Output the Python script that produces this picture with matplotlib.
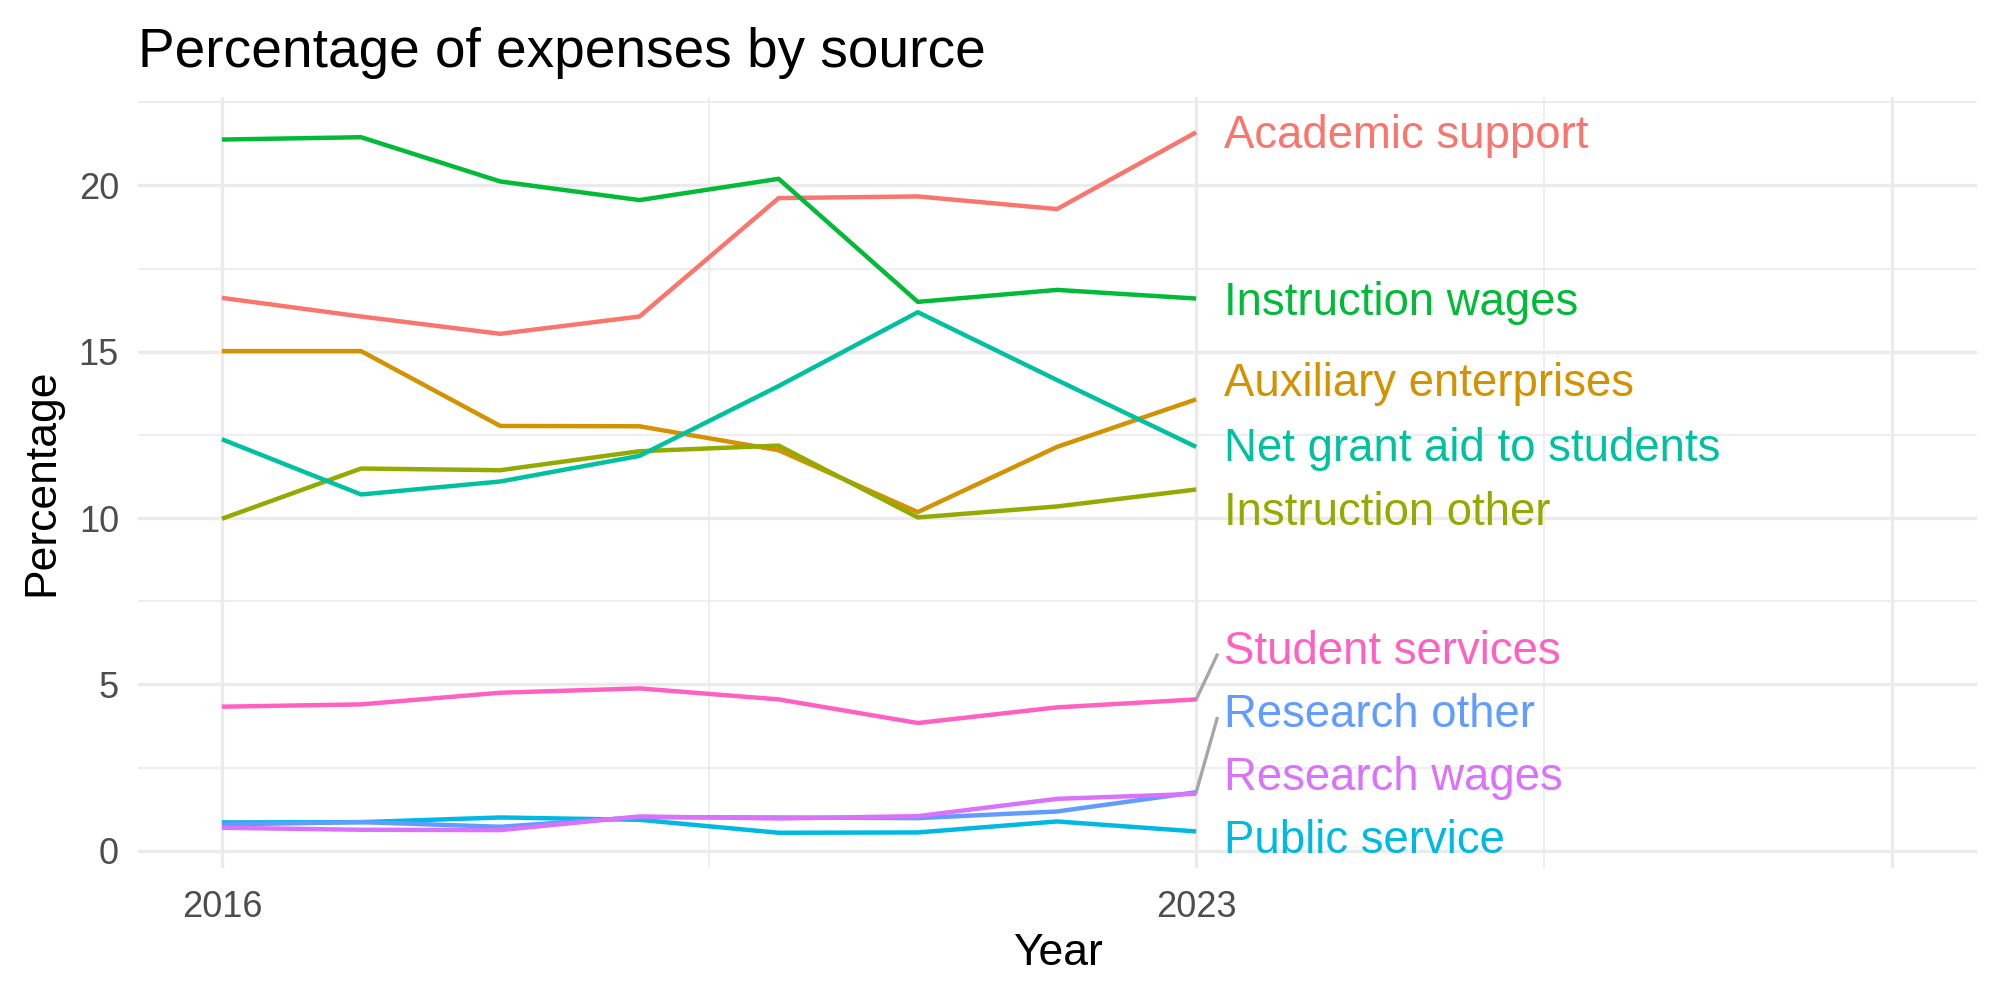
import matplotlib.pyplot as plt
import numpy as np

plt.rcParams['font.family'] = ['Liberation Sans', 'DejaVu Sans']

years = [2016, 2017, 2018, 2019, 2020, 2021, 2022, 2023]

sources = [
    "Academic support",
    "Auxiliary enterprises",
    "Instruction other",
    "Instruction wages",
    "Net grant aid to students",
    "Public service",
    "Research other",
    "Research wages",
    "Student services",
]

academic_support = [16.62, 16.06, 15.54, 16.06, 19.62, 19.67, 19.29, 21.60]
auxiliary_enterprises = [15.02, 15.02, 12.77, 12.76, 12.04, 10.18, 12.14, 13.57]
instruction_other = [9.98, 11.49, 11.44, 12.01, 12.18, 10.02, 10.35, 10.86]
instruction_wages = [21.38, 21.45, 20.12, 19.56, 20.20, 16.50, 16.86, 16.60]
net_grant_aid = [12.37, 10.71, 11.10, 11.87, 13.97, 16.19, 14.15, 12.14]
public_service = [0.85, 0.86, 1.00, 0.93, 0.54, 0.55, 0.88, 0.58]
research_other = [0.79, 0.86, 0.72, 1.01, 1.00, 0.98, 1.18, 1.76]
research_wages = [0.69, 0.63, 0.62, 1.03, 0.97, 1.04, 1.56, 1.71]
student_services = [4.33, 4.40, 4.75, 4.88, 4.55, 3.84, 4.31, 4.55]

values = [
    academic_support, auxiliary_enterprises, instruction_other,
    instruction_wages, net_grant_aid, public_service,
    research_other, research_wages, student_services,
]

# label y positions after repelling
label_y = [21.50, 14.02, 10.16, 16.46, 12.09, 0.28, 4.07, 2.18, 5.98]

colors = ["#F8766D", "#D39200", "#93AA00", "#00BA38", "#00C19F",
          "#00B9E3", "#619CFF", "#DB72FB", "#FF61C3"]

x_breaks = [2016, 2023, 2028]
x_labels = ["2016", "2023", ""]
y_breaks = [0, 5, 10, 15, 20]


def main():
    fig = plt.figure(figsize=(10, 5), dpi=200)
    ax = fig.add_axes([0.0692, 0.1323, 0.9193, 0.7704])

    label_x = years[-1] + 0.2
    for name, vals, ly, col in zip(sources, values, label_y, colors):
        ax.plot(years, vals, color=col, lw=1.6, solid_capstyle='butt', zorder=3)
        ax.text(label_x, ly, name, color=col, fontsize=16.4,
                ha='left', va='center', zorder=4)
        if abs(ly - vals[-1]) > 1.0:
            ax.plot([years[-1], label_x - 0.05], [vals[-1], ly - 0.1],
                    color="#A6A6A6", lw=1.2, zorder=2)

    ax.set_xlim(2015.40, 2028.61)
    ax.set_ylim(-0.51, 22.65)

    ax.set_xticks(x_breaks)
    ax.set_xticklabels(x_labels)
    ax.set_xticks([2019.5, 2025.5], minor=True)
    ax.set_yticks(y_breaks)
    ax.set_yticks([2.5, 7.5, 12.5, 17.5, 22.5], minor=True)

    ax.grid(which='major', color='#EBEBEB', lw=1.2)
    ax.grid(which='minor', color='#EBEBEB', lw=0.6)
    ax.set_axisbelow(True)
    for s in ax.spines.values():
        s.set_visible(False)
    ax.tick_params(which='both', length=0)
    ax.tick_params(axis='x', labelsize=13, labelcolor='#4D4D4D', pad=8)
    ax.tick_params(axis='y', labelsize=13, labelcolor='#4D4D4D', pad=7)

    ax.set_xlabel("Year", fontsize=16, labelpad=3)
    ax.set_ylabel("Percentage", fontsize=16, labelpad=6)
    ax.set_title("Percentage of expenses by source", fontsize=19.8,
                 loc='left', pad=11)

    fig.savefig("out.png", dpi=200, facecolor='white')


if __name__ == "__main__":
    main()
